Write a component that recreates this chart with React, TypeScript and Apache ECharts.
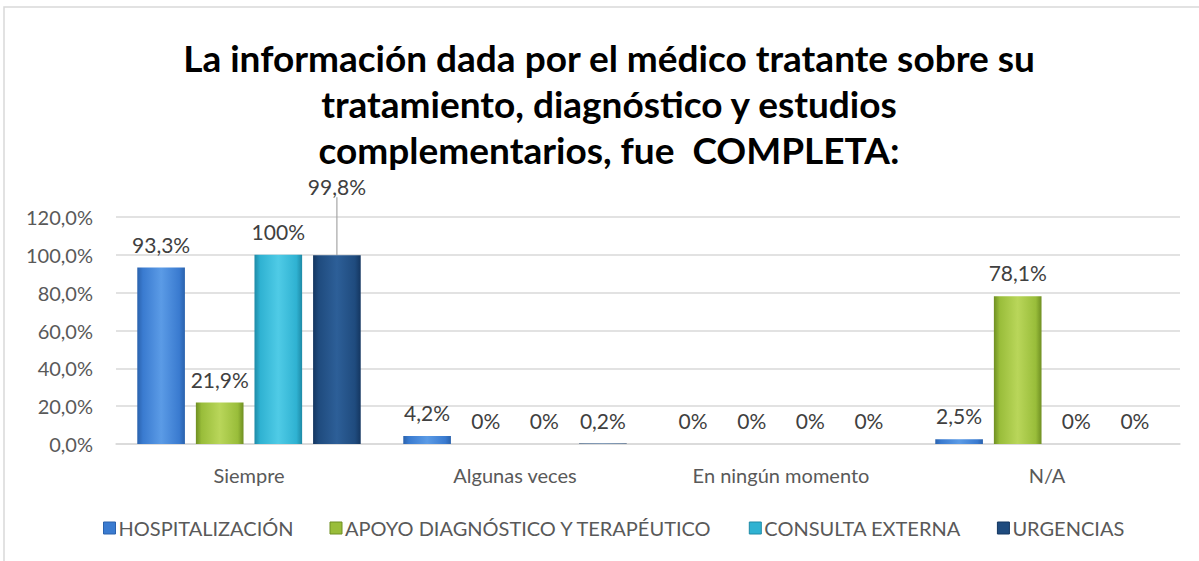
import React, { useEffect, useRef } from "react";
import * as echarts from "echarts";

const categories = ["Siempre", "Algunas veces", "En ningún momento", "N/A"];
const seriesNames = [
  "HOSPITALIZACIÓN",
  "APOYO DIAGNÓSTICO Y TERAPÉUTICO",
  "CONSULTA EXTERNA",
  "URGENCIAS",
];
const hospitalizacion = [93.3, 4.2, 0, 2.5];
const apoyo = [21.9, 0, 0, 78.1];
const consulta = [100, 0, 0, 0];
const urgencias = [99.8, 0.2, 0, 0];
const labelTexts = [
  ["93,3%", "4,2%", "0%", "2,5%"],
  ["21,9%", "0%", "0%", "78,1%"],
  ["100%", "0%", "0%", "0%"],
  ["99,8%", "0,2%", "0%", "0%"],
];
const yTicks = { min: 0, max: 120, interval: 20 };

const colors = [
  ["#5b9be6", "#3a7bd0", "#2a62ad"],
  ["#b9d65a", "#99bd3a", "#6f8f22"],
  ["#4fcbe6", "#2fb2d2", "#1e8aa6"],
  ["#2d5f98", "#1f4b7e", "#143660"],
];

const FONT = "Lato, 'Open Sans', sans-serif";

export default function App() {
  const ref = useRef<HTMLDivElement>(null);
  useEffect(() => {
    if (!ref.current) return;
    const chart = echarts.init(ref.current, null, { renderer: "svg" });
    const datasets = [hospitalizacion, apoyo, consulta, urgencias];
    const series = datasets.map((d, si) => ({
      name: seriesNames[si],
      type: "bar",
      data: d.map((v, i) =>
        si === 3 && i === 0
          ? { value: v, labelLine: { show: true, lineStyle: { color: "#a6a6a6", width: 1.2 } } }
          : { value: v }
      ),
      barGap: "23%",
      barCategoryGap: "16%",
      itemStyle: {
        color: new echarts.graphic.LinearGradient(0, 0, 1, 0, [
          { offset: 0, color: colors[si][2] },
          { offset: 0.12, color: colors[si][1] },
          { offset: 0.5, color: colors[si][0] },
          { offset: 0.88, color: colors[si][1] },
          { offset: 1, color: colors[si][2] },
        ]),
        borderWidth: 0,
      },
      label: {
        show: true,
        position: "top",
        distance: 13,
        fontFamily: FONT,
        fontSize: 21,
        color: "#404040",
        formatter: (p: any) => labelTexts[si][p.dataIndex],
      },
      labelLayout:
        si === 3
          ? (p: any) => (p.dataIndex === 0 ? { dy: -45 } : {})
          : undefined,
      labelLine: { show: false },
    }));
    chart.setOption({
      animation: false,
      backgroundColor: "#ffffff",
      title: {
        text:
          "La información dada por el médico tratante sobre su\ntratamiento, diagnóstico y estudios\ncomplementarios, fue  COMPLETA:",
        left: 604,
        textAlign: "center",
        top: 29,
        textStyle: {
          fontFamily: FONT,
          fontWeight: "bold",
          fontSize: 37,
          lineHeight: 46,
          color: "#000000",
        },
      },
      graphic: [
        {
          type: "rect",
          shape: { x: 4, y: 7, width: 1300, height: 700 },
          style: { fill: "none", stroke: "#d9d9d9", lineWidth: 1.5 },
          silent: true,
        },
      ],
      legend: {
        bottom: 18,
        left: 98,
        icon: "rect",
        itemWidth: 12,
        itemHeight: 12,
        itemGap: 36,
        textStyle: { fontFamily: FONT, fontSize: 20, color: "#595959", padding: [0, 0, 0, -2] },
        data: seriesNames.map((n, si) => ({
          name: n,
          itemStyle: { color: colors[si][1], borderColor: colors[si][2], borderWidth: 1 },
        })),
      },
      grid: { left: 116, right: 19, top: 217, bottom: 117 },
      xAxis: {
        type: "category",
        data: categories,
        axisLine: { lineStyle: { color: "#d9d9d9", width: 1.5 } },
        axisTick: { show: false },
        axisLabel: { fontFamily: FONT, fontSize: 20, color: "#595959", margin: 21 },
      },
      yAxis: {
        type: "value",
        min: yTicks.min,
        max: yTicks.max,
        interval: yTicks.interval,
        axisLine: { show: false },
        axisTick: { show: false },
        splitLine: { lineStyle: { color: "#d9d9d9", width: 1.5 } },
        axisLabel: {
          fontFamily: FONT,
          fontSize: 20,
          color: "#595959",
          margin: 23,
          formatter: (v: number) => v.toFixed(1).replace(".", ",") + "%",
        },
      },
      series,
    });
    return () => chart.dispose();
  }, []);
  return (
    <div
      ref={ref}
      style={{ position: "fixed", left: 0, top: 0, width: 1199, height: 561 }}
    />
  );
}
